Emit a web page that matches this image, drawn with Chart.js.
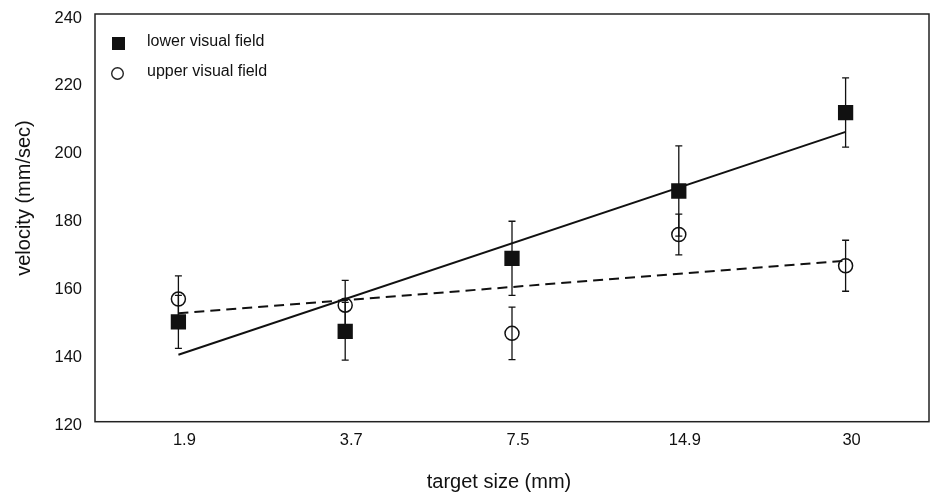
<!DOCTYPE html>
<html lang="en">
<head>
    <meta charset="UTF-8">
    <title>Velocity vs target size</title>
    <script src="https://cdn.jsdelivr.net/npm/chart.js"></script>
    <style>
        html, body { margin: 0; padding: 0; background: #fff; overflow: hidden; }
        canvas { display: block; }
    </style>
</head>
<body>
    <canvas id="velocityChart" width="935" height="496"></canvas>
    <script>
        // target size categories (mm)
        const targetSizes = ['1.9', '3.7', '7.5', '14.9', '30'];

        // lower visual field: mean velocity and error (mm/sec)
        const lowerMean = [149.4, 146.6, 168.1, 187.9, 211.0];
        const lowerErr = [7.8, 8.5, 10.9, 13.3, 10.2];

        // upper visual field
        const upperMean = [156.1, 154.3, 146.0, 175.1, 165.9];
        const upperErr = [6.8, 7.3, 7.7, 6.0, 7.5];

        // regression lines, end points only
        const lowerFit = [139.7, null, null, null, 205.3];
        const upperFit = [151.9, null, null, null, 167.4];

        const yTicks = [120, 140, 160, 180, 200, 220, 240];

        const xTitle = 'target size (mm)';
        const yTitle = 'velocity (mm/sec)';

        const ink = '#111';
        const fontFamily = '"Liberation Sans", Arial, sans-serif';

        const errorBars = {
            id: 'errorBars',
            beforeDatasetsDraw(chart) {
                const ctx = chart.ctx;
                const x = chart.scales.x;
                const y = chart.scales.y;
                ctx.save();
                ctx.strokeStyle = ink;
                ctx.lineWidth = 1.3;
                [[lowerMean, lowerErr], [upperMean, upperErr]].forEach(([means, errs]) => {
                    means.forEach((m, i) => {
                        const px = x.getPixelForValue(i);
                        const top = y.getPixelForValue(m + errs[i]);
                        const bot = y.getPixelForValue(m - errs[i]);
                        ctx.beginPath();
                        ctx.moveTo(px, top);
                        ctx.lineTo(px, bot);
                        ctx.moveTo(px - 3.5, top);
                        ctx.lineTo(px + 3.5, top);
                        ctx.moveTo(px - 3.5, bot);
                        ctx.lineTo(px + 3.5, bot);
                        ctx.stroke();
                    });
                });
                ctx.restore();
            }
        };

        const frameAndLegend = {
            id: 'frameAndLegend',
            afterDraw(chart) {
                const ctx = chart.ctx;
                const a = chart.chartArea;
                ctx.save();
                ctx.strokeStyle = '#222';
                ctx.lineWidth = 1.5;
                ctx.strokeRect(a.left, a.top, a.right - a.left, a.bottom - a.top);

                // legend inside the plot, top left
                ctx.fillStyle = ink;
                ctx.fillRect(118.5 - 6.5, 43.5 - 6.5, 13, 13);
                ctx.beginPath();
                ctx.lineWidth = 1.4;
                ctx.arc(117.5, 73.5, 5.8, 0, Math.PI * 2);
                ctx.stroke();
                ctx.font = '16px ' + fontFamily;
                ctx.textBaseline = 'middle';
                ctx.textAlign = 'left';
                ctx.fillText(chart.data.datasets[0].label, 147, 42);
                ctx.fillText(chart.data.datasets[1].label, 147, 72);

                // axis titles (sit a little off-centre in the original)
                ctx.font = '20px ' + fontFamily;
                ctx.textAlign = 'center';
                ctx.fillText(xTitle, 499, 482);
                ctx.translate(24, 198);
                ctx.rotate(-Math.PI / 2);
                ctx.fillText(yTitle, 0, 0);
                ctx.restore();
            }
        };

        new Chart(document.getElementById('velocityChart'), {
            type: 'line',
            data: {
                labels: targetSizes,
                datasets: [
                    {
                        label: 'lower visual field',
                        data: lowerMean,
                        showLine: false,
                        pointStyle: 'rect',
                        pointRadius: 10.8,
                        pointBackgroundColor: ink,
                        pointBorderColor: ink,
                        pointBorderWidth: 0,
                        order: 1
                    },
                    {
                        label: 'upper visual field',
                        data: upperMean,
                        showLine: false,
                        pointStyle: 'circle',
                        pointRadius: 7,
                        pointBackgroundColor: 'rgba(0,0,0,0)',
                        pointBorderColor: ink,
                        pointBorderWidth: 1.5,
                        order: 1
                    },
                    {
                        label: 'lower fit',
                        data: lowerFit,
                        spanGaps: true,
                        borderColor: ink,
                        borderWidth: 2,
                        pointRadius: 0,
                        order: 2
                    },
                    {
                        label: 'upper fit',
                        data: upperFit,
                        spanGaps: true,
                        borderColor: ink,
                        borderWidth: 2,
                        borderDash: [10, 6],
                        pointRadius: 0,
                        order: 2
                    }
                ]
            },
            options: {
                responsive: false,
                animation: false,
                layout: { autoPadding: false, padding: { top: 14, right: 6, left: 0, bottom: 0 } },
                plugins: {
                    legend: { display: false },
                    tooltip: { enabled: false }
                },
                scales: {
                    x: {
                        offset: true,
                        grid: { display: false, drawTicks: false },
                        border: { display: false },
                        ticks: {
                            color: ink,
                            padding: 9,
                            labelOffset: 6,
                            font: { family: fontFamily, size: 16.5 }
                        },
                        afterFit(scale) {
                            scale.height = 74.3;
                            scale.paddingLeft = 0;
                            scale.paddingRight = 0;
                        }
                    },
                    y: {
                        min: yTicks[0],
                        max: yTicks[yTicks.length - 1],
                        afterBuildTicks(scale) { scale.ticks = yTicks.map(v => ({ value: v })); },
                        grid: { display: false, drawTicks: false },
                        border: { display: false },
                        ticks: {
                            color: ink,
                            padding: 13,
                            labelOffset: 4,
                            font: { family: fontFamily, size: 16.5 }
                        },
                        afterFit(scale) {
                            scale.width = 95;
                            scale.paddingTop = 0;
                            scale.paddingBottom = 0;
                        }
                    }
                }
            },
            plugins: [errorBars, frameAndLegend]
        });
    </script>
</body>
</html>
